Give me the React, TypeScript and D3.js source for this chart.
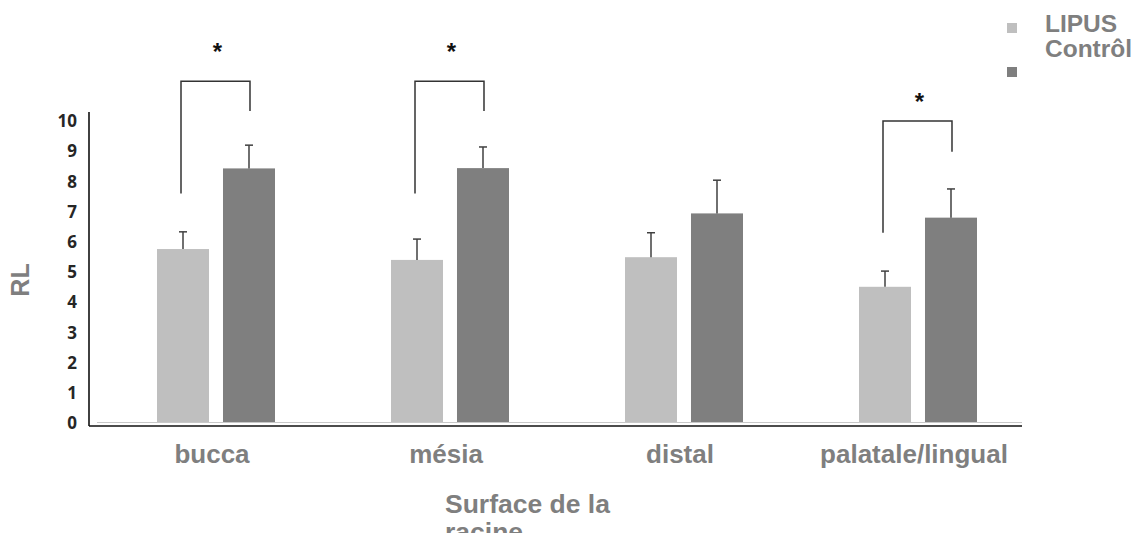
import React from 'react'
import * as d3 from 'd3'

// values
const categories = ['bucca', 'mésia', 'distal', 'palatale/lingual']
const seriesNames = ['LIPUS', 'Contrôl']
const lipusValues = [5.76, 5.4, 5.49, 4.51]
const lipusErrors = [0.57, 0.69, 0.81, 0.52]
const controlValues = [8.43, 8.44, 6.94, 6.8]
const controlErrors = [0.77, 0.7, 1.1, 0.95]
const yTicks = [0, 1, 2, 3, 4, 5, 6, 7, 8, 9, 10]

// significance brackets (in data units): top of bracket, bottom of left / right leg
const sigCategories = ['bucca', 'mésia', 'palatale/lingual']
const sigTop = [11.32, 11.32, 10.0]
const sigLeftBottom = [7.6, 7.6, 6.3]
const sigRightBottom = [10.33, 10.33, 8.98]
const sigStarY = [12.43, 12.43, 10.77]

const colors = ['#bfbfbf', '#7f7f7f']
const font = '"Liberation Sans", Arial, sans-serif'

export default function App() {
  const y = d3.scaleLinear().domain([0, 10]).range([423, 121])
  const x = d3.scaleBand<string>().domain(categories).range([99, 1035])
  const xInner = d3.scaleBand<string>().domain(seriesNames).range([58, 176]).paddingInner(0.212)
  const bw = xInner.bandwidth()

  const series = [
    { name: seriesNames[0], values: lipusValues, errs: lipusErrors },
    { name: seriesNames[1], values: controlValues, errs: controlErrors },
  ]

  const barCenter = (cat: string, s: string) => (x(cat) as number) + (xInner(s) as number) + bw / 2

  return (
    <svg width={1143} height={533} style={{ position: 'absolute', left: 0, top: 0, display: 'block' }}>
      <rect width={1143} height={533} fill="#fff" />

      {/* bars */}
      {series.map((s, si) =>
        s.values.map((v, i) => (
          <rect key={s.name + i}
            x={(x(categories[i]) as number) + (xInner(s.name) as number)}
            y={y(v)} width={bw} height={y(0) - y(v) - 1}
            fill={colors[si]} />
        ))
      )}

      {/* error bars */}
      {series.map(s =>
        s.values.map((v, i) => {
          const cx = barCenter(categories[i], s.name)
          return (
            <g key={'e' + s.name + i} stroke="#404040" strokeWidth={1.5}>
              <line x1={cx} x2={cx} y1={y(v)} y2={y(v + s.errs[i])} />
              <line x1={cx - 4} x2={cx + 4} y1={y(v + s.errs[i])} y2={y(v + s.errs[i])} />
            </g>
          )
        })
      )}

      {/* axes */}
      <line x1={97} x2={1022} y1={422.5} y2={422.5} stroke="#c8c8c8" strokeWidth={1.2} />
      <line x1={89} x2={1022} y1={426} y2={426} stroke="#111" strokeWidth={1.6} />
      <line x1={89} x2={89} y1={112} y2={426} stroke="#111" strokeWidth={1.6} />

      {yTicks.map(t => (
        <text key={t} x={77} y={y(t)} dy="0.36em" textAnchor="end"
          fontFamily='"Open Sans", sans-serif' fontWeight="bold" fontSize={17} fill="#262626">{t}</text>
      ))}

      {categories.map(c => (
        <text key={c} x={(x(c) as number) + x.bandwidth() / 2 - 4} y={463} textAnchor="middle"
          fontFamily={font} fontWeight="bold" fontSize={26} fill="#7f7f7f">{c}</text>
      ))}

      <text transform="translate(29,280) rotate(-90)" textAnchor="middle"
        fontFamily={font} fontWeight="bold" fontSize={25} fill="#7f7f7f">RL</text>

      <text x={445} y={513} fontFamily={font} fontWeight="bold" fontSize={26.5} fill="#7f7f7f">
        <tspan x={445}>Surface de la</tspan>
        <tspan x={445} dy={28}>racine</tspan>
      </text>

      {/* significance brackets */}
      {sigCategories.map((c, i) => {
        const lx = barCenter(c, seriesNames[0]) - 2
        const rx = barCenter(c, seriesNames[1]) + 1
        return (
          <g key={'s' + c}>
            <path d={`M${lx},${y(sigLeftBottom[i])}V${y(sigTop[i])}H${rx}V${y(sigRightBottom[i])}`}
              fill="none" stroke="#333" strokeWidth={1.5} />
            <text x={(lx + rx) / 2 + 2} y={y(sigStarY[i]) + 12} textAnchor="middle"
              fontFamily={font} fontWeight="bold" fontSize={24} fill="#111">*</text>
          </g>
        )
      })}

      {/* legend */}
      {seriesNames.map((s, i) => (
        <g key={'l' + s}>
          <rect x={1007} y={23 + i * 44} width={10} height={10} fill={colors[i]} />
          <text x={1045} y={32 + i * 25} fontFamily={font} fontWeight="bold" fontSize={24.5} fill="#7f7f7f">{s}</text>
        </g>
      ))}
    </svg>
  )
}
